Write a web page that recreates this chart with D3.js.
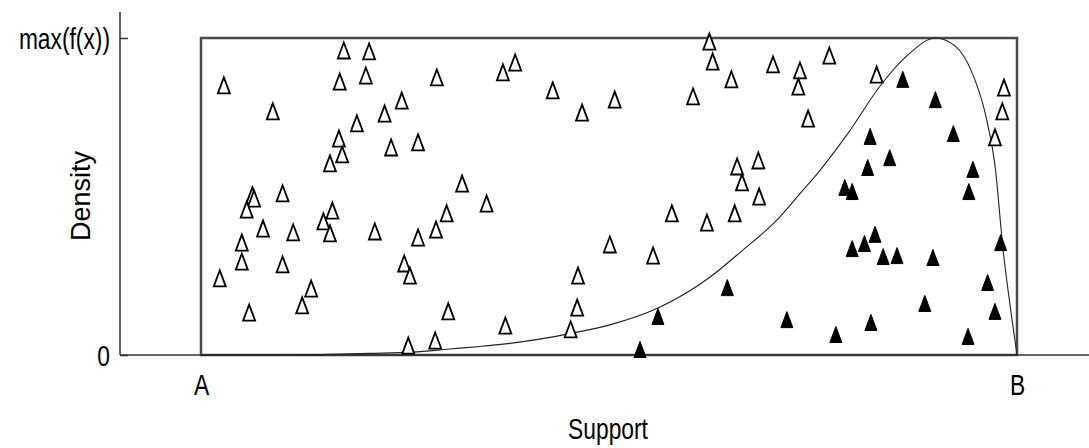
<!DOCTYPE html>
<html lang="en">
<head>
<meta charset="UTF-8">
<title>Rejection sampling</title>
<script src="https://d3js.org/d3.v7.min.js"></script>
<style>
  body { margin: 0; background: #fff; }
  text { font-family: "Liberation Sans", Arial, sans-serif; fill: #000; }
  .frame { fill: none; stroke: #4a4a4a; stroke-width: 2.5px; }
  .axisline { stroke: #333; stroke-width: 1.5px; }
  .curve { fill: none; stroke: #222; stroke-width: 1.1px; }
  .open { fill: #fff; stroke: #000; stroke-width: 1.8px; }
  .filled { fill: #000; stroke: #000; stroke-width: 1px; }
</style>
</head>
<body>
<div id="chart"></div>
<script>
// support runs from A (0) to B (1), density from 0 to max(f(x)) (1)
const xTicks = [0, 1];
const xTickLabels = ["A", "B"];
const yTicks = [0, 1];
const yTickLabels = ["0", "max(f(x))"];

// density curve
const curveX = [0, 0.097, 0.158, 0.207, 0.259, 0.305, 0.342, 0.373, 0.415, 0.455, 0.501, 0.560, 0.624,
  0.664, 0.706, 0.738, 0.752, 0.793, 0.835, 0.866, 0.900, 0.924, 0.945, 0.961, 0.973, 0.983, 0.994, 1];
const curveY = [0, 0, 0.002, 0.005, 0.009, 0.019, 0.027, 0.035, 0.050, 0.069, 0.095, 0.148, 0.246,
  0.331, 0.426, 0.521, 0.562, 0.700, 0.858, 0.946, 1.000, 0.975, 0.890, 0.763, 0.599, 0.331, 0.110, 0];

// proposals above the curve (rejected, open triangles)
const rejected = [
  [0.028, 0.849], [0.175, 0.959], [0.206, 0.956], [0.170, 0.861], [0.202, 0.880], [0.289, 0.874],
  [0.088, 0.767], [0.246, 0.801], [0.225, 0.760], [0.191, 0.729], [0.169, 0.681], [0.173, 0.631],
  [0.158, 0.603], [0.233, 0.653], [0.266, 0.669], [0.320, 0.539], [0.350, 0.476], [0.063, 0.502],
  [0.065, 0.492], [0.100, 0.508], [0.056, 0.457], [0.161, 0.454], [0.150, 0.420], [0.158, 0.382],
  [0.076, 0.397], [0.113, 0.385], [0.213, 0.388], [0.050, 0.353], [0.266, 0.369], [0.288, 0.394],
  [0.301, 0.445], [0.050, 0.293], [0.100, 0.284], [0.023, 0.240], [0.135, 0.208], [0.124, 0.155],
  [0.059, 0.132], [0.249, 0.287], [0.256, 0.249], [0.303, 0.136], [0.287, 0.044], [0.254, 0.028],
  [0.370, 0.890], [0.385, 0.921], [0.431, 0.833], [0.467, 0.763], [0.507, 0.804], [0.603, 0.814],
  [0.623, 0.987], [0.627, 0.924], [0.650, 0.868], [0.701, 0.915], [0.373, 0.091], [0.453, 0.079],
  [0.461, 0.148], [0.462, 0.249], [0.501, 0.347], [0.554, 0.312], [0.577, 0.445], [0.620, 0.416],
  [0.654, 0.445], [0.684, 0.498], [0.657, 0.593], [0.663, 0.543], [0.683, 0.612], [0.734, 0.896],
  [0.732, 0.845], [0.744, 0.744], [0.770, 0.943], [0.828, 0.883], [0.984, 0.842], [0.982, 0.767],
  [0.973, 0.685]
];

// proposals under the curve (accepted, filled triangles)
const accepted = [
  [0.538, 0.016], [0.560, 0.120], [0.645, 0.211], [0.718, 0.110], [0.778, 0.063], [0.821, 0.101],
  [0.887, 0.161], [0.940, 0.057], [0.973, 0.136], [0.964, 0.227], [0.980, 0.353], [0.897, 0.306],
  [0.853, 0.312], [0.836, 0.309], [0.798, 0.334], [0.813, 0.350], [0.826, 0.379], [0.789, 0.527],
  [0.798, 0.514], [0.817, 0.590], [0.844, 0.621], [0.820, 0.688], [0.941, 0.514], [0.946, 0.584],
  [0.922, 0.697], [0.900, 0.804], [0.860, 0.868]
];

const width = 1089, height = 448;
const axisX = 120, axisTop = 12;
const narrow = 0.76;

const x = d3.scaleLinear().domain([0, 1]).range([201, 1017]);
const y = d3.scaleLinear().domain([0, 1]).range([355, 38]);

const svg = d3.select("#chart").append("svg")
  .attr("width", width)
  .attr("height", height);

// bounding box of the proposal region
svg.append("rect")
  .attr("class", "frame")
  .attr("x", x(0)).attr("y", y(1))
  .attr("width", x(1) - x(0))
  .attr("height", y(0) - y(1));

// axis lines
svg.append("line").attr("class", "axisline")
  .attr("x1", axisX).attr("x2", axisX)
  .attr("y1", axisTop).attr("y2", y(0));
svg.append("line").attr("class", "axisline")
  .attr("x1", axisX).attr("x2", width)
  .attr("y1", y(0)).attr("y2", y(0));

// y axis ticks
const yAxis = svg.append("g")
  .attr("transform", `translate(${axisX},0)`)
  .call(d3.axisLeft(y).tickValues(yTicks).tickSize(-8).tickPadding(10)
    .tickFormat((d, i) => yTickLabels[i]));
yAxis.select(".domain").remove();
yAxis.selectAll(".tick line").attr("stroke", "#333").attr("stroke-width", 1.5);
yAxis.selectAll(".tick text")
  .attr("x", null).attr("dy", "0.36em")
  .attr("transform", `translate(-10,0) scale(${narrow},1)`)
  .style("font-size", "30px")
  .style("font-family", "'Liberation Sans', Arial, sans-serif");

// x axis ticks
const xAxis = svg.append("g")
  .attr("transform", `translate(0,${y(0)})`)
  .call(d3.axisBottom(x).tickValues(xTicks).tickSize(0).tickPadding(0)
    .tickFormat((d, i) => xTickLabels[i]));
xAxis.select(".domain").remove();
xAxis.selectAll(".tick text")
  .attr("y", null).attr("dy", null)
  .attr("transform", `translate(0,40) scale(${narrow},1)`)
  .style("font-size", "30px")
  .style("font-family", "'Liberation Sans', Arial, sans-serif");

// density curve
const line = d3.line()
  .x((d, i) => x(curveX[i]))
  .y((d, i) => y(curveY[i]))
  .curve(d3.curveMonotoneX);
svg.append("path")
  .datum(curveX)
  .attr("class", "curve")
  .attr("d", line);

// tall triangle marker
const tri = {
  draw(ctx) {
    ctx.moveTo(0, -8.5);
    ctx.lineTo(6, 7.5);
    ctx.lineTo(-6, 7.5);
    ctx.closePath();
  }
};
const marker = d3.symbol().type(tri);

svg.append("g").selectAll("path")
  .data(rejected)
  .join("path")
  .attr("class", "open")
  .attr("transform", d => `translate(${x(d[0])},${y(d[1])})`)
  .attr("d", marker);

svg.append("g").selectAll("path")
  .data(accepted)
  .join("path")
  .attr("class", "filled")
  .attr("transform", d => `translate(${x(d[0])},${y(d[1])})`)
  .attr("d", marker);

// axis titles
svg.append("text")
  .attr("transform", `translate(${(x(0) + x(1)) / 2 - 1},439) scale(${narrow},1)`)
  .attr("text-anchor", "middle")
  .style("font-size", "30px")
  .text("Support");

svg.append("text")
  .attr("transform", "translate(90,196) rotate(-90)")
  .attr("text-anchor", "middle")
  .style("font-size", "27px")
  .text("Density");
</script>
</body>
</html>
